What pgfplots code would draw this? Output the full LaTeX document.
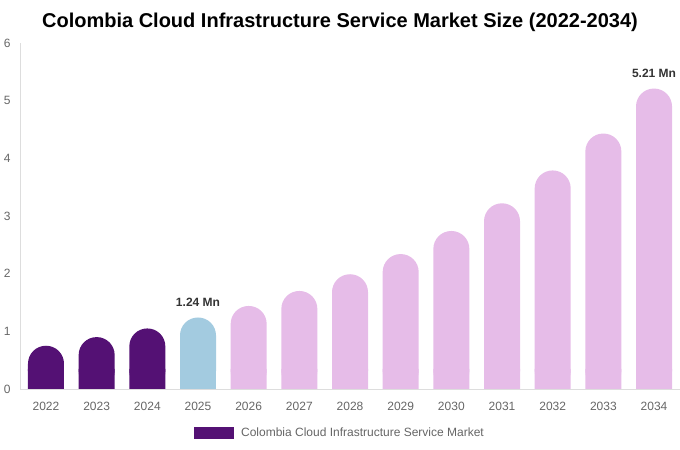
\documentclass[border=0pt]{standalone}
\usepackage{fontspec}
\setmainfont{Liberation Sans}
\usepackage{pgfplots}
\pgfplotsset{compat=1.18}
\definecolor{darkp}{RGB}{84,17,116}
\definecolor{lblue}{RGB}{163,203,224}
\definecolor{lpink}{RGB}{230,188,232}
\definecolor{tickgray}{RGB}{102,102,102}
\definecolor{axgray}{RGB}{221,221,221}
\definecolor{lblgray}{RGB}{51,51,51}
\pgfplotsset{
  mybar/.style={ybar, bar width=36bp, bar shift=0pt, draw=none},
  myround/.style={rounded corners=17.9bp},
}
\begin{document}
\begin{tikzpicture}[x=1bp,y=1bp]
\useasboundingbox (0,0) rectangle (680,450);
\node[font=\fontsize{20bp}{24bp}\selectfont\bfseries] at (340,428) {Colombia Cloud Infrastructure Service Market Size (2022-2034)};
\begin{axis}[
  at={(20bp,61bp)}, anchor=south west,
  scale only axis, width=660bp, height=346bp,
  xmin=-0.513, xmax=12.513, ymin=0, ymax=6,
  axis x line*=bottom, axis y line*=left,
  axis line style={axgray, line width=0.8bp},
  xtick={0,...,12},
  xticklabels={2022,2023,2024,2025,2026,2027,2028,2029,2030,2031,2032,2033,2034},
  ytick={0,1,2,3,4,5,6},
  major tick length=0pt,
  /pgf/number format/assume math mode=true,
  tick label style={font=\fontsize{12bp}{14bp}\selectfont, text=tickgray},
  xticklabel style={yshift=-10bp},
  yticklabel style={xshift=-6bp},
  legend style={at={(0.4848,-0.127)}, anchor=center, draw=none,
    font=\fontsize{12bp}{14bp}\selectfont, text=tickgray},
  nodes near coords style={font=\fontsize{12bp}{14bp}\selectfont\bfseries, text=lblgray, anchor=center, yshift=15bp},
]
% square lower parts (drawn first, under the rounded bars)
\addplot[mybar, fill=darkp, forget plot] coordinates {(0,0.35) (1,0.35) (2,0.35)};
\addplot[mybar, fill=lblue, forget plot] coordinates {(3,0.35)};
\addplot[mybar, fill=lpink, forget plot] coordinates {(4,0.35) (5,0.35) (6,0.35) (7,0.35) (8,0.35) (9,0.35) (10,0.35) (11,0.35) (12,0.35)};
% rounded bars
\addplot[mybar, fill=darkp, myround,
  legend image code/.code={\fill[darkp, sharp corners] (0bp,-6bp) rectangle (40bp,6bp); \path (45bp,0bp);}]
  coordinates {(0,0.75) (1,0.90) (2,1.05)};
\addlegendentry{Colombia Cloud Infrastructure Service Market}
\addplot[mybar, fill=lblue, myround, forget plot, nodes near coords, point meta=explicit symbolic]
  coordinates {(3,1.24) [1.24 Mn]};
\addplot[mybar, fill=lpink, myround, forget plot, nodes near coords, point meta=explicit symbolic]
  coordinates {(4,1.44) [] (5,1.70) [] (6,1.99) [] (7,2.34) [] (8,2.74) [] (9,3.22) [] (10,3.79) [] (11,4.43) [] (12,5.21) [5.21 Mn]};
\end{axis}
\end{tikzpicture}
\end{document}
